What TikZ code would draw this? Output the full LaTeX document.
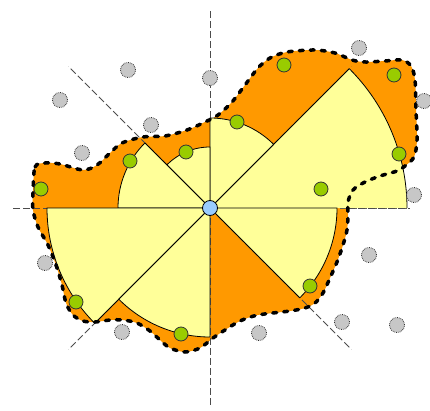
\documentclass[tikz,border=0pt]{standalone}
\usepackage{xcolor}
\usepackage{tikz}
\definecolor{yel}{HTML}{FFFF99}
\definecolor{org}{HTML}{FF9900}
\definecolor{grnc}{HTML}{99CC00}
\definecolor{bluc}{HTML}{99CCFF}
\tikzset{
  sec/.style={fill=yel,draw=black,line width=0.8pt,line join=round},
  bnd/.style={line width=3.5pt,dash pattern=on 4pt off 7pt,line cap=round},
  ax/.style={dash pattern=on 7pt off 3pt,line width=0.9pt,black!70},
  grn/.style={circle,fill=grnc,draw=black!80,line width=0.8pt,minimum size=14pt,inner sep=0pt},
  gry/.style={circle,fill=black!22,draw=black!80,densely dotted,line width=0.8pt,minimum size=15pt,inner sep=0pt},
  ctr/.style={circle,fill=bluc,draw=black,line width=0.8pt,minimum size=15pt,inner sep=0pt}
}
\newcommand{\sect}[3]{\filldraw[sec] (o) -- ++(#1:#3pt) arc[start angle=#1,end angle=#2,radius=#3pt] -- cycle;}
\newcommand{\blob}{plot[smooth cycle,tension=0.5] coordinates {(33,217) (35,243) (45,247) (60,246) (83,240) (97,245)
  (110,257) (122,267) (143,273) (165,274) (187,280) (205,288) (218,295) (232,308) (245,325) (258,342) (270,352)
  (287,358) (315,360) (335,357) (352,350) (365,348) (385,349) (402,350) (411,344) (415,330) (416,300) (417,270)
  (414,253) (405,244) (397,239) (380,234) (365,228) (353,220) (348,208) (348,195) (347,180) (343,165) (337,148)
  (330,132) (323,117) (315,107) (305,102) (290,99) (258,95) (240,89) (225,80) (213,72) (200,62) (185,58) (170,62)
  (160,70) (150,79) (137,87) (123,90) (110,90) (95,88) (83,89) (73,95) (66,107) (62,125) (56,145) (48,165)
  (38,183) (33,200)}}

\begin{document}
\begin{tikzpicture}[x=1pt,y=1pt]
\useasboundingbox (0,0) rectangle (430,410);
\coordinate (o) at (210,202);
\coordinate (e1) at (348,202); \coordinate (e2) at (410,202);
\fill[org] \blob;
\foreach \a in {0,45,...,315} \draw[ax] (o) -- ++(\a:200pt);
\fill[yel] (o) -- ++(0:197pt) arc[start angle=0,end angle=45,radius=197pt] -- cycle;
\draw[line width=0.8pt,line join=round] (o) -- ++(45:197pt) arc[start angle=45,end angle=0,radius=197pt];
\sect{45}{90}{90}
\sect{90}{135}{61}
\sect{135}{180}{92}
\sect{180}{225}{163}
\sect{225}{270}{129}
\sect{315}{360}{127}
\draw[ax] (e1) -- (e2);
\draw[bnd] \blob;
\node[grn] (g1) at (41,221) {};
\node[grn] (g2) at (130,249) {};
\node[grn] (g3) at (186,258) {};
\node[grn] (g4) at (237,288) {};
\node[grn] (g5) at (284,345) {};
\node[grn] (g6) at (394,335) {};
\node[grn] (g7) at (399,256) {};
\node[grn] (g8) at (321,221) {};
\node[grn] (g9) at (310,124) {};
\node[grn] (g10) at (181,76) {};
\node[grn] (g11) at (76,108) {};
\node[gry] (p1) at (128,340) {};
\node[gry] (p2) at (60,310) {};
\node[gry] (p3) at (151,285) {};
\node[gry] (p4) at (82,257) {};
\node[gry] (p5) at (210,332) {};
\node[gry] (p6) at (359,362) {};
\node[gry] (p7) at (424,309) {};
\node[gry] (p8) at (414,215) {};
\node[gry] (p9) at (45,147) {};
\node[gry] (p10) at (122,78) {};
\node[gry] (p11) at (369,155) {};
\node[gry] (p12) at (342,88) {};
\node[gry] (p13) at (397,85) {};
\node[gry] (p14) at (259,77) {};
\node[ctr] (c) at (o) {};
\end{tikzpicture}
\end{document}
